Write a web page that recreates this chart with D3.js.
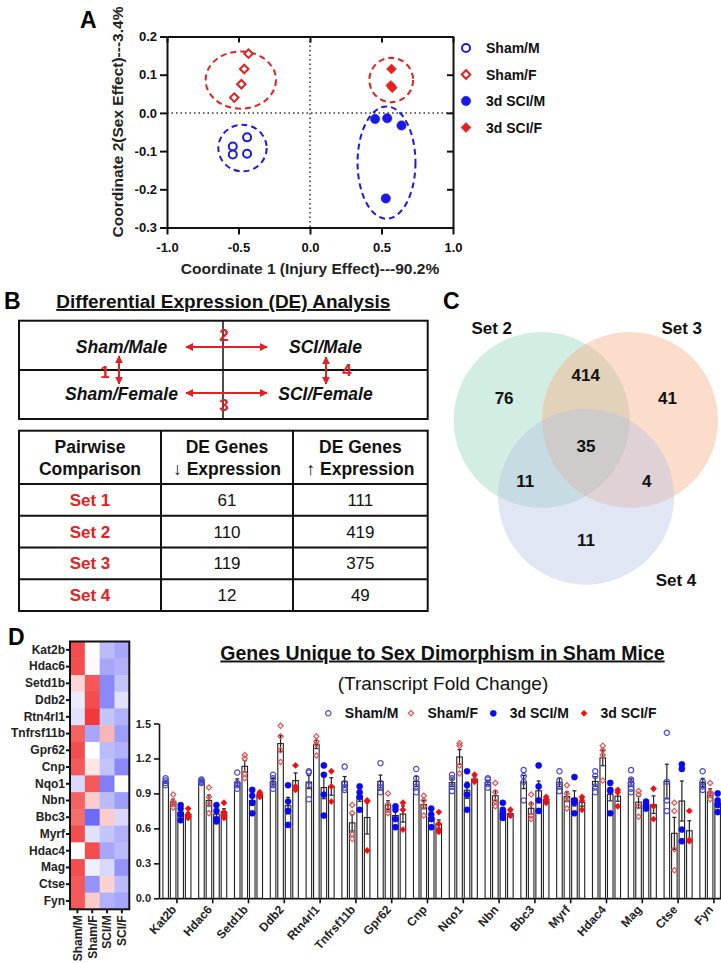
<!DOCTYPE html>
<html lang="en">
<head>
<meta charset="utf-8">
<title>Sex dimorphism after SCI</title>
<script src="https://cdn.jsdelivr.net/npm/d3@7"></script>
<style>
  body { margin: 0; background: #fff; }
  svg { display: block; font-family: "Liberation Sans", Arial, sans-serif; }
</style>
</head>
<body>
<svg id="fig" width="721" height="963"></svg>
<script>
// ---------- data: panel A (coordinates 1 / 2) ----------
var shamM_x = [-0.44, -0.54, -0.54, -0.44], shamM_y = [-0.064, -0.088, -0.109, -0.107];
var shamF_x = [-0.43, -0.46, -0.48, -0.53], shamF_y = [0.155, 0.115, 0.075, 0.04];
var sciM_x  = [0.455, 0.54, 0.64, 0.53],    sciM_y  = [-0.016, -0.014, -0.033, -0.224];
var sciF_x  = [0.57, 0.565, 0.575],         sciF_y  = [0.115, 0.072, 0.066];
// group ellipses (centre / radii in data units): Sham/M, Sham/F, SCI/M, SCI/F
var ellCx = [-0.472, -0.484, 0.535, 0.568];
var ellCy = [-0.092, 0.086, -0.13, 0.086];
var ellRx = [0.169, 0.246, 0.2025, 0.153];
var ellRy = [0.061, 0.075, 0.147, 0.058];
var xTicksA = [-1, -0.5, 0, 0.5, 1];
var yTicksA = [-0.3, -0.2, -0.1, 0, 0.1, 0.2];
var legendA = ["Sham/M", "Sham/F", "3d SCI/M", "3d SCI/F"];

// ---------- data: panel B ----------
var setNames = ["Set 1", "Set 2", "Set 3", "Set 4"];
var deDown = [61, 110, 119, 12];
var deUp = [111, 419, 375, 49];

// ---------- data: panel C (venn) ----------
var vennSets = ["Set 2", "Set 3", "Set 4"];
var vennRegions = [[0], [1], [2], [0, 1], [0, 2], [1, 2], [0, 1, 2]];
var vennCounts = [76, 41, 11, 414, 11, 4, 35];

// ---------- data: panel D ----------
var genes = ["Kat2b", "Hdac6", "Setd1b", "Ddb2", "Rtn4rl1", "Tnfrsf11b", "Gpr62", "Cnp",
             "Nqo1", "Nbn", "Bbc3", "Myrf", "Hdac4", "Mag", "Ctse", "Fyn"];
var heatCols = ["Sham/M", "Sham/F", "SCI/M", "SCI/F"];
var heatShamM = [0.85, 0.85, 0.2, -0.1, -0.15, 0.75, 0.85, 0.8, -0.2, 0.75, 0.7, 0.85, 0.0, 0.85, 0.8, 0.8];
var heatShamF = [0.0, 0.03, 0.8, 0.85, 0.95, -0.45, 0.0, 0.12, 0.8, 0.25, -0.75, -0.15, 0.85, -0.08, -0.55, 0.25];
var heatSciM  = [-0.35, -0.45, -0.6, -0.6, -0.3, 0.35, -0.35, -0.3, -0.65, -0.35, 0.25, -0.3, -0.45, -0.2, 0.22, -0.4];
var heatSciF  = [-0.45, -0.4, -0.3, -0.15, -0.4, -0.5, -0.4, -0.6, 0.0, -0.5, -0.2, -0.4, -0.35, -0.55, -0.35, -0.45];

var barGroups = ["Sham/M", "Sham/F", "3d SCI/M", "3d SCI/F"];
var ptsShamM = [[1.03,1.01,0.99,0.97],[1.02,1.0,0.99,1.01],[1.08,0.99,0.94,0.97],[1.06,1.03,0.97,0.94],
  [1.09,1.08,0.97,0.85],[1.13,0.99,0.95,0.93],[1.16,0.99,0.95,0.91],[1.11,1.03,0.96,0.91],
  [1.06,1.03,0.96,0.92],[1.03,1.02,0.95,0.98],[1.10,1.05,1.0,0.84],[1.09,1.01,0.96,0.92],
  [1.09,1.05,0.96,0.91],[1.10,1.02,0.99,0.94,0.91],[1.42,1.0,0.84,0.75],[1.09,1.0,0.96,0.93]];
var ptsShamF = [[0.89,0.83,0.81,0.78],[0.95,0.87,0.81,0.73],[1.23,1.20,1.07,1.03],[1.48,1.39,1.27,1.17],
  [1.39,1.345,1.32,1.225],[0.80,0.73,0.55,0.51],[0.90,0.81,0.76,0.73],[0.88,0.84,0.79,0.71],
  [1.33,1.31,1.14,1.07],[0.99,0.91,0.83,0.79],[0.89,0.81,0.71,0.68],[0.97,0.90,0.85,0.77],
  [1.31,1.27,1.23,1.01],[0.92,0.89,0.79,0.70],[0.82,0.75,0.42,0.24],[0.99,0.91,0.89,0.85]];
var ptsSciM = [[0.80,0.77,0.72,0.67],[0.80,0.75,0.68,0.66],[0.93,0.88,0.82,0.73],[0.97,0.83,0.75,0.63],
  [1.14,1.06,0.89,0.71],[0.96,0.91,0.87,0.76],[0.79,0.76,0.68,0.61],[0.77,0.72,0.68,0.61],
  [1.09,0.97,0.89,0.76],[0.82,0.76,0.72,0.69],[1.14,0.96,0.84,0.75],[1.04,0.84,0.82,0.73],
  [0.99,0.93,0.92,0.73],[0.83,0.81,0.79,0.77],[1.15,1.11,0.59,0.49],[0.90,0.84,0.80,0.74]];
var ptsSciF = [[0.77,0.72,0.70,0.69],[0.82,0.74,0.71,0.69],[0.91,0.90,0.88,0.87],[1.14,0.96,0.93],
  [1.09,0.96,0.83],[0.84,0.83,0.41],[0.82,0.76,0.59],[0.74,0.64,0.59,0.57],
  [1.06,1.01,1.00],[0.76,0.71,0.71],[0.87,0.85,0.82],[0.87,0.84,0.76],
  [0.93,0.91,0.79],[0.94,0.79,0.68],[0.75,0.49,0.50],[0.82,0.80,0.77]];
var yTicksD = [0, 0.3, 0.6, 0.9, 1.2, 1.5];

// ---------- common ----------
var BLUE = "#1a1ae6", RED = "#e5201f";
var svg = d3.select("#fig");

var defs = svg.append("defs");
defs.append("marker")
    .attr("id", "arrRed")
    .attr("viewBox", "0 0 10 10")
    .attr("refX", 9).attr("refY", 5)
    .attr("markerWidth", 4).attr("markerHeight", 4)
    .attr("orient", "auto-start-reverse")
    .append("path")
    .attr("d", "M0,0 L10,5 L0,10 Z")
    .attr("fill", RED);

function symbolPath(shape, size) {
    var t = shape === "diamond" ? d3.symbolSquare : d3.symbolCircle;
    return d3.symbol(t, size)();
}
function fmt1(d) { return d.toFixed(1); }

function panelLetter(txt, x, y) {
    svg.append("text").attr("x", x).attr("y", y)
       .attr("font-size", 23).attr("font-weight", "bold").text(txt);
}

// =========================================================
// Panel A
// =========================================================
panelLetter("A", 80, 28);
var xA = d3.scaleLinear().domain([-1, 1]).range([167, 453]);
var yA = d3.scaleLinear().domain([-0.3, 0.2]).range([227.5, 36.5]);
var gA = svg.append("g");

// dotted zero lines
gA.append("line").attr("x1", xA(0)).attr("x2", xA(0)).attr("y1", yA(0.2)).attr("y2", yA(-0.3))
  .attr("stroke", "#333").attr("stroke-width", 1.5).attr("stroke-dasharray", "1.5,3");
gA.append("line").attr("x1", xA(-1)).attr("x2", xA(1)).attr("y1", yA(0)).attr("y2", yA(0))
  .attr("stroke", "#333").attr("stroke-width", 1.5).attr("stroke-dasharray", "1.5,3");

// axes
var axL = gA.append("g").attr("transform", "translate(" + xA(-1) + ",0)")
    .call(d3.axisLeft(yA).tickValues(yTicksA).tickFormat(fmt1).tickSize(7).tickSizeOuter(0));
var axB = gA.append("g").attr("transform", "translate(0," + yA(-0.3) + ")")
    .call(d3.axisBottom(xA).tickValues(xTicksA).tickFormat(fmt1).tickSize(7).tickSizeOuter(0));
var axT = gA.append("g").attr("transform", "translate(0," + yA(0.2) + ")")
    .call(d3.axisTop(xA).tickValues(xTicksA).tickFormat("").tickSize(-6).tickSizeOuter(0));
var axR = gA.append("g").attr("transform", "translate(" + xA(1) + ",0)")
    .call(d3.axisRight(yA).tickValues(yTicksA).tickFormat("").tickSize(-6).tickSizeOuter(0));
[axL, axB, axT, axR].forEach(function(a) {
    a.selectAll("path, line").attr("stroke", "#111").attr("stroke-width", 2);
    a.selectAll("text").attr("font-size", 13).attr("font-weight", "bold").attr("fill", "#111")
     .attr("font-family", "Liberation Sans, Arial, sans-serif");
});
axB.selectAll("text").attr("dy", "1.1em");

gA.append("text").attr("x", xA(0)).attr("y", 274).attr("text-anchor", "middle")
  .attr("font-size", 15.5).attr("font-weight", "bold").attr("fill", "#222")
  .text("Coordinate 1 (Injury Effect)---90.2%");
gA.append("text").attr("transform", "translate(123,122) rotate(-90)").attr("text-anchor", "middle")
  .attr("font-size", 15.5).attr("font-weight", "bold").attr("fill", "#222")
  .text("Coordinate 2(Sex Effect)---3.4%");

// ellipses
var ellColors = [BLUE, RED, BLUE, RED];
gA.selectAll("ellipse").data(ellCx).enter().append("ellipse")
  .attr("cx", function(d) { return xA(d); })
  .attr("cy", function(d, i) { return yA(ellCy[i]); })
  .attr("rx", function(d, i) { return xA(ellRx[i]) - xA(0); })
  .attr("ry", function(d, i) { return yA(0) - yA(ellRy[i]); })
  .attr("fill", "none").attr("stroke", function(d, i) { return ellColors[i]; })
  .attr("stroke-width", 2).attr("stroke-dasharray", "6,4");

var seriesA = [
    {xs: shamM_x, ys: shamM_y, shape: "circle", filled: false, color: BLUE, size: 50},
    {xs: shamF_x, ys: shamF_y, shape: "diamond", filled: false, color: RED, size: 36},
    {xs: sciM_x, ys: sciM_y, shape: "circle", filled: true, color: BLUE, size: 70},
    {xs: sciF_x, ys: sciF_y, shape: "diamond", filled: true, color: RED, size: 50}
];
seriesA.forEach(function(s) {
    gA.selectAll(null).data(s.xs).enter().append("path")
      .attr("d", symbolPath(s.shape, s.size))
      .attr("transform", function(d, i) {
          return "translate(" + xA(d) + "," + yA(s.ys[i]) + ")" + (s.shape === "diamond" ? " rotate(45)" : "");
      })
      .attr("fill", s.filled ? s.color : "white")
      .attr("stroke", s.color).attr("stroke-width", s.filled ? 0.5 : 2);
});

// legend A
var legA = gA.append("g");
legendA.forEach(function(name, i) {
    var s = seriesA[i], y = 48 + i * 26.5;
    legA.append("path").attr("d", symbolPath(s.shape, s.size))
        .attr("transform", "translate(466," + y + ")" + (s.shape === "diamond" ? " rotate(45)" : ""))
        .attr("fill", s.filled ? s.color : "white")
        .attr("stroke", s.color).attr("stroke-width", s.filled ? 0.5 : 2);
    legA.append("text").attr("x", 486).attr("y", y).attr("dy", "0.36em")
        .attr("font-size", 14).attr("font-weight", "bold").attr("fill", "#111").text(name);
});

// =========================================================
// Panel B
// =========================================================
panelLetter("B", 4, 309);
var gB = svg.append("g");
var tL = 19, tR = 427.7, tMid = 223;
gB.append("text").attr("x", (tL + tR) / 2).attr("y", 308).attr("text-anchor", "middle")
  .attr("font-size", 19).attr("font-weight", "bold").attr("fill", "#111")
  .attr("text-decoration", "underline")
  .text("Differential Expression (DE) Analysis");

// comparison box
gB.append("rect").attr("x", tL).attr("y", 320.7).attr("width", tR - tL).attr("height", 98.3)
  .attr("fill", "none").attr("stroke", "#111").attr("stroke-width", 2);
gB.append("line").attr("x1", tL).attr("x2", tR).attr("y1", 370).attr("y2", 370)
  .attr("stroke", "#111").attr("stroke-width", 2);
gB.append("line").attr("x1", tMid).attr("x2", tMid).attr("y1", 320.7).attr("y2", 419)
  .attr("stroke", "#111").attr("stroke-width", 1.5);

var boxLabels = [["Sham/Male", "SCI/Male"], ["Sham/Female", "SCI/Female"]];
boxLabels.forEach(function(row, r) {
    row.forEach(function(lbl, c) {
        gB.append("text").attr("x", c === 0 ? 121.5 : 325.5).attr("y", r === 0 ? 353 : 399.5)
          .attr("text-anchor", "middle").attr("font-size", 17.5).attr("font-weight", "bold")
          .attr("font-style", "italic").attr("fill", "#111").text(lbl);
    });
});
function arrow(x1, y1, x2, y2) {
    gB.append("line").attr("x1", x1).attr("y1", y1).attr("x2", x2).attr("y2", y2)
      .attr("stroke", RED).attr("stroke-width", 2)
      .attr("marker-start", "url(#arrRed)").attr("marker-end", "url(#arrRed)");
}
arrow(186, 347, 267, 347);
arrow(186, 393, 267, 393);
arrow(119, 356, 119, 384);
arrow(326, 357, 326, 384);
[["1", 105, 378], ["2", 224, 341], ["3", 224, 411], ["4", 347, 376]].forEach(function(n) {
    gB.append("text").attr("x", n[1]).attr("y", n[2]).attr("text-anchor", "middle")
      .attr("font-size", 17).attr("font-weight", "bold").attr("fill", RED).text(n[0]);
});

// DE table
var colX = [tL, 161, 293, tR];
var rowY = d3.scaleBand().domain(setNames).range([484, 611]);
gB.append("rect").attr("x", tL).attr("y", 430.7).attr("width", tR - tL).attr("height", 611 - 430.7)
  .attr("fill", "none").attr("stroke", "#111").attr("stroke-width", 2);
setNames.forEach(function(s) {
    gB.append("line").attr("x1", tL).attr("x2", tR).attr("y1", rowY(s)).attr("y2", rowY(s))
      .attr("stroke", "#111").attr("stroke-width", 2);
});
[1, 2].forEach(function(i) {
    gB.append("line").attr("x1", colX[i]).attr("x2", colX[i]).attr("y1", 430.7).attr("y2", 611)
      .attr("stroke", "#111").attr("stroke-width", 2);
});
var heads = [["Pairwise", "Comparison"], ["DE Genes", "\u2193 Expression"], ["DE Genes", "\u2191 Expression"]];
heads.forEach(function(h, i) {
    var cx = (colX[i] + colX[i + 1]) / 2;
    h.forEach(function(line, k) {
        gB.append("text").attr("x", cx).attr("y", k === 0 ? 453 : 475)
          .attr("text-anchor", "middle").attr("font-size", 17.5).attr("font-weight", "bold")
          .attr("fill", "#111").text(line);
    });
});
var tableCols = [setNames, deDown, deUp];
tableCols.forEach(function(vals, i) {
    var cx = (colX[i] + colX[i + 1]) / 2;
    gB.selectAll(null).data(vals).enter().append("text")
      .attr("x", cx)
      .attr("y", function(d, r) { return rowY(setNames[r]) + rowY.bandwidth() / 2; })
      .attr("dy", "0.36em").attr("text-anchor", "middle")
      .attr("font-size", 17).attr("font-weight", i === 0 ? "bold" : "normal")
      .attr("fill", i === 0 ? RED : "#111")
      .text(function(d) { return d; });
});

// =========================================================
// Panel C  (venn)
// =========================================================
panelLetter("C", 443, 309);
var gC = svg.append("g");
var vennR = 88;
var vennCenters = [[541.7, 420], [630, 420], [586, 496.7]];
var vennFill = ["#8fd3b6", "#f7ab7e", "#b3c0e4"];
vennCenters.forEach(function(c, i) {
    gC.append("circle").attr("cx", c[0]).attr("cy", c[1]).attr("r", vennR)
      .attr("fill", vennFill[i]).attr("fill-opacity", 0.4);
});
var gx = d3.mean(vennCenters, function(c) { return c[0]; });
var gy = d3.mean(vennCenters, function(c) { return c[1]; });
vennRegions.forEach(function(reg, i) {
    var mx = d3.mean(reg, function(k) { return vennCenters[k][0]; });
    var my = d3.mean(reg, function(k) { return vennCenters[k][1]; });
    var k = reg.length === 1 ? 1.85 : (reg.length === 2 ? 2.75 : 1);
    gC.append("text").attr("x", gx + k * (mx - gx)).attr("y", gy + k * (my - gy))
      .attr("dy", "0.36em").attr("text-anchor", "middle")
      .attr("font-size", 17).attr("font-weight", "bold").attr("fill", "#111")
      .text(vennCounts[i]);
});
var setLabelPos = [[491.7, 328], [681.7, 328], [676, 580]];
vennSets.forEach(function(s, i) {
    gC.append("text").attr("x", setLabelPos[i][0]).attr("y", setLabelPos[i][1]).attr("dy", "0.36em")
      .attr("text-anchor", "middle").attr("font-size", 17).attr("font-weight", "bold")
      .attr("fill", "#111").text(s);
});

// =========================================================
// Panel D  heatmap
// =========================================================
panelLetter("D", 8, 645);
var gH = svg.append("g");
var xH = d3.scaleBand().domain(heatCols).range([70, 129.3]);
var yH = d3.scaleBand().domain(genes).range([641.5, 909.3]);
var heatColor = d3.scaleLinear().domain([-1, 0, 1]).range(["#3a3af5", "#ffffff", "#f22e2e"]);
var heatData = [heatShamM, heatShamF, heatSciM, heatSciF];
heatData.forEach(function(col, c) {
    gH.selectAll(null).data(col).enter().append("rect")
      .attr("x", xH(heatCols[c]))
      .attr("y", function(d, r) { return yH(genes[r]); })
      .attr("width", xH.bandwidth() + 0.5)
      .attr("height", yH.bandwidth() + 0.5)
      .attr("fill", function(d) { return heatColor(d); });
});
gH.append("rect").attr("x", 70).attr("y", 641.5).attr("width", 59.3).attr("height", 267.8)
  .attr("fill", "none").attr("stroke", "#111").attr("stroke-width", 2);
var hL = gH.append("g").attr("transform", "translate(70,0)")
    .call(d3.axisLeft(yH).tickSize(4).tickSizeOuter(0));
var hB = gH.append("g").attr("transform", "translate(0,909.3)")
    .call(d3.axisBottom(xH).tickSize(4).tickSizeOuter(0));
[hL, hB].forEach(function(a) {
    a.select(".domain").remove();
    a.selectAll("line").attr("stroke", "#111").attr("stroke-width", 2);
    a.selectAll("text").attr("font-size", 12).attr("font-weight", "bold").attr("fill", "#222")
     .attr("font-family", "Liberation Sans, Arial, sans-serif");
});
hL.selectAll("text").attr("x", -5);
hB.selectAll("text").attr("transform", "rotate(-90)").attr("text-anchor", "end")
  .attr("x", -6).attr("y", 0).attr("dy", "0.36em");

// =========================================================
// Panel D  bar chart
// =========================================================
var gD = svg.append("g");
gD.append("text").attr("x", 442.5).attr("y", 659.5).attr("text-anchor", "middle")
  .attr("font-size", 19.5).attr("font-weight", "bold").attr("fill", "#111")
  .attr("text-decoration", "underline").text("Genes Unique to Sex Dimorphism in Sham Mice");
gD.append("text").attr("x", 443).attr("y", 690).attr("text-anchor", "middle")
  .attr("font-size", 19).attr("fill", "#111").text("(Transcript Fold Change)");

var x0 = d3.scaleBand().domain(genes).range([159, 159 + 16 * 35.8]);
var x1 = d3.scaleBand().domain(barGroups).range([-15, 15]);
var yD = d3.scaleLinear().domain([0, 1.5]).range([898.3, 723.5]);
var barPts = [ptsShamM, ptsShamF, ptsSciM, ptsSciF];
var barStyle = [
    {shape: "circle", filled: false, color: "#4848d8", size: 22},
    {shape: "diamond", filled: false, color: "#e35252", size: 14},
    {shape: "circle", filled: true, color: "#0a0af0", size: 30},
    {shape: "diamond", filled: true, color: "#ee1010", size: 20}
];
var barW = x1.bandwidth() * 0.74;

var bars = [];
barPts.forEach(function(series, g) {
    series.forEach(function(pts, i) {
        var m = d3.mean(pts);
        var sem = d3.deviation(pts) / Math.sqrt(pts.length);
        bars.push({gene: genes[i], group: barGroups[g], g: g, mean: m, sem: sem, pts: pts});
    });
});
function bx(d) { return x0(d.gene) + x0.bandwidth() / 2 + x1(d.group) + x1.bandwidth() / 2; }

gD.selectAll("rect.bar").data(bars).enter().append("rect").attr("class", "bar")
  .attr("x", function(d) { return bx(d) - barW / 2; })
  .attr("y", function(d) { return yD(d.mean); })
  .attr("width", barW)
  .attr("height", function(d) { return yD(0) - yD(d.mean); })
  .attr("fill", "white").attr("stroke", "#222").attr("stroke-width", 1.1);

// error bars
bars.forEach(function(d) {
    var x = bx(d);
    gD.append("line").attr("x1", x).attr("x2", x)
      .attr("y1", yD(d.mean - d.sem)).attr("y2", yD(d.mean + d.sem))
      .attr("stroke", "#222").attr("stroke-width", 1.2);
    [d.mean - d.sem, d.mean + d.sem].forEach(function(v) {
        gD.append("line").attr("x1", x - 2).attr("x2", x + 2).attr("y1", yD(v)).attr("y2", yD(v))
          .attr("stroke", "#222").attr("stroke-width", 1.2);
    });
});

// individual points
bars.forEach(function(d) {
    var s = barStyle[d.g];
    gD.selectAll(null).data(d.pts).enter().append("path")
      .attr("d", symbolPath(s.shape, s.size))
      .attr("transform", function(v) {
          return "translate(" + bx(d) + "," + yD(v) + ")" + (s.shape === "diamond" ? " rotate(45)" : "");
      })
      .attr("fill", s.filled ? s.color : "none")
      .attr("stroke", s.color).attr("stroke-width", s.filled ? 0.4 : 1.2);
});

// axes
var dY = gD.append("g").attr("transform", "translate(159,0)")
    .call(d3.axisLeft(yD).tickValues(yTicksD).tickFormat(fmt1).tickSize(5).tickSizeOuter(0));
var dX = gD.append("g").attr("transform", "translate(0," + yD(0) + ")")
    .call(d3.axisBottom(x0).tickSize(5).tickSizeOuter(0));
[dY, dX].forEach(function(a) {
    a.selectAll("path, line").attr("stroke", "#111").attr("stroke-width", 1.6);
    a.selectAll("text").attr("font-weight", "bold").attr("fill", "#222")
     .attr("font-family", "Liberation Sans, Arial, sans-serif");
});
dY.selectAll("text").attr("font-size", 11);
dX.selectAll("text").attr("font-size", 12).attr("text-anchor", "end")
  .attr("transform", "translate(-3,9) rotate(-48)").attr("x", 0).attr("y", 0).attr("dy", "0.35em");

// legend D
var legDX = [328.3, 411, 493.3, 584];
barGroups.forEach(function(name, i) {
    var s = barStyle[i];
    gD.append("path").attr("d", symbolPath(s.shape, s.size))
      .attr("transform", "translate(" + legDX[i] + ",713.3)" + (s.shape === "diamond" ? " rotate(45)" : ""))
      .attr("fill", s.filled ? s.color : "none")
      .attr("stroke", s.color).attr("stroke-width", s.filled ? 0.4 : 1.2);
    gD.append("text").attr("x", legDX[i] + 16.5).attr("y", 713.3).attr("dy", "0.36em")
      .attr("font-size", 14).attr("font-weight", "bold").attr("fill", "#111").text(name);
});
</script>
</body>
</html>
